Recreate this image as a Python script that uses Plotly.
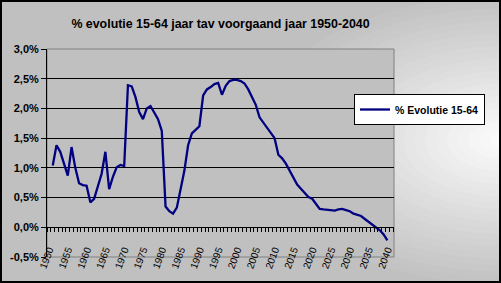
import plotly.graph_objects as go

# ---- data ----
years = list(range(1951, 2041))
evolutie = [
    1.04, 1.38, 1.27, 1.07, 0.87, 1.35, 1.00, 0.74, 0.71, 0.70,
    0.42, 0.48, 0.69, 0.90, 1.27, 0.64, 0.85, 1.01, 1.05, 1.03,
    2.39, 2.37, 2.19, 1.94, 1.82, 2.00, 2.04, 1.94, 1.82, 1.62,
    0.35, 0.27, 0.23, 0.33, 0.62, 0.95, 1.38, 1.58, 1.64, 1.70,
    2.22, 2.32, 2.36, 2.41, 2.43, 2.23, 2.38, 2.46, 2.48, 2.48,
    2.46, 2.42, 2.32, 2.19, 2.06, 1.85, 1.76, 1.68, 1.58, 1.50,
    1.22, 1.16, 1.07, 0.96, 0.85, 0.72, 0.65, 0.58, 0.51, 0.48,
    0.40, 0.31, 0.30, 0.29, 0.29, 0.28, 0.30, 0.31, 0.29, 0.27,
    0.23, 0.21, 0.19, 0.14, 0.09, 0.05, 0.00, -0.05, -0.12, -0.22,
]
x_ticks = list(range(1950, 2041, 5))
x_ticklabels = [str(v) for v in x_ticks]
y_ticks = [-0.5, 0.0, 0.5, 1.0, 1.5, 2.0, 2.5, 3.0]
y_ticklabels = ["-0,5%", "0,0%", "0,5%", "1,0%", "1,5%", "2,0%", "2,5%", "3,0%"]
series_name = "% Evolutie 15-64"
title_text = "% evolutie 15-64 jaar tav voorgaand jaar 1950-2040"

# ---- layout geometry ----
W, H = 501, 283
ML, MR, MT, MB = 47, 107, 49, 26
PW, PH = W - ML - MR, H - MT - MB
ymin, ymax = -0.5, 3.0
xmin, xmax = 1949.47, 2041.76

FONT = "Liberation Sans, Arial, sans-serif"

fig = go.Figure()
fig.add_trace(go.Scatter(
    x=years, y=evolutie, mode="lines", name="<b>" + series_name + "</b>",
    line=dict(color="#000080", width=2.3),
))
# invisible trace for the zero-line axis with year ticks
fig.add_trace(go.Scatter(x=[xmin, xmax], y=[0, 0], mode="lines",
                         line=dict(width=0), showlegend=False, hoverinfo="skip",
                         xaxis="x2"))

# background gradient (concentric ellipses centred on the right edge)
shapes = []
n = 24
cx_px, cy_px = W, 140
for i in range(n):
    f = 1 - i / n              # 1 -> outermost
    rx, ry = 260 * f, 150 * f
    t = i / (n - 1)
    v = int(round(192 + (250 - 192) * t))
    col = f"rgb({v},{v},{v})"
    shapes.append(dict(
        type="circle", xref="paper", yref="paper", layer="below",
        x0=(cx_px - rx - ML) / PW, x1=(cx_px + rx - ML) / PW,
        y0=(H - MB - (cy_px + ry)) / PH, y1=(H - MB - (cy_px - ry)) / PH,
        fillcolor=col, line=dict(width=0)))
# plot area
shapes.append(dict(type="rect", xref="paper", yref="paper", x0=0, x1=1, y0=0, y1=1,
                   fillcolor="#c0c0c0", line=dict(color="#808080", width=1), layer="below"))
# outer border
shapes.append(dict(type="rect", xref="paper", yref="paper",
                   x0=(-ML + 1) / PW, x1=(W - ML - 1) / PW,
                   y0=(-MB + 1) / PH, y1=1 + (MT - 1) / PH,
                   line=dict(color="black", width=2), fillcolor="rgba(0,0,0,0)", layer="above"))

fig.update_layout(
    width=W, height=H,
    margin=dict(l=ML, r=MR, t=MT, b=MB, pad=0, autoexpand=False),
    paper_bgcolor="#c0c0c0",
    plot_bgcolor="rgba(0,0,0,0)",
    font=dict(family=FONT, color="black"),
    title=dict(text="<b>" + title_text + "</b>", x=0.5, xref="paper",
               xanchor="center", y=1 - 24 / H, yanchor="middle",
               font=dict(size=12.4, family=FONT, color="black")),
    showlegend=True,
    legend=dict(x=(354 - ML) / PW, y=(MT + PH - 94) / PH, xanchor="left", yanchor="top",
                bgcolor="white", bordercolor="black", borderwidth=1,
                font=dict(size=10.5, family=FONT, color="black"),
                itemwidth=30, tracegroupgap=0),
    xaxis=dict(range=[xmin, xmax], tickmode="array", tickvals=x_ticks,
               ticktext=x_ticklabels, tickangle=-70, ticks="",
               ticklabelstandoff=-16,
               showgrid=False, zeroline=False, showline=False, automargin=False,
               tickfont=dict(size=10, family=FONT, color="black")),
    xaxis2=dict(range=[xmin, xmax], overlaying="x", anchor="free",
                position=(0 - ymin) / (ymax - ymin), side="bottom",
                tick0=1949.5, dtick=1, ticks="outside", ticklen=4,
                tickcolor="black", tickwidth=1, showticklabels=False,
                showgrid=False, zeroline=False, showline=True, automargin=False,
                linecolor="black", linewidth=1),
    yaxis=dict(range=[ymin, ymax], tickmode="array", tickvals=y_ticks,
               ticktext=["<b>" + t + "</b>" for t in y_ticklabels],
               ticks="outside", ticklen=5, tickcolor="black",
               showline=True, linecolor="black", linewidth=1,
               showgrid=True, gridcolor="black", gridwidth=1,
               zeroline=False, automargin=False,
               tickfont=dict(size=11, family=FONT, color="black")),
    shapes=shapes,
)

fig.write_html("out.html")
